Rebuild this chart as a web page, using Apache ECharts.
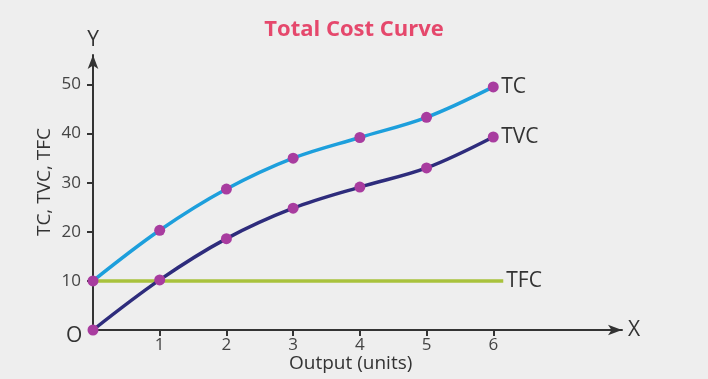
<!DOCTYPE html>
<html>
<head>
<meta charset="utf-8">
<script src="https://cdn.jsdelivr.net/npm/echarts@6/dist/echarts.min.js"></script>
<style>
html,body{margin:0;padding:0;background:#eeeeee;}
#c{width:708px;height:379px;}
</style>
</head>
<body>
<div id="c"></div>
<script>
var output = [0, 1, 2, 3, 4, 5, 6];
var tcValues = [10, 20.3, 28.7, 35, 39.2, 43.3, 49.5];
var tvcValues = [0, 10.2, 18.6, 24.8, 29.1, 33, 39.3];
var tfcX = [0, 6.15];
var tfcValues = [10, 10];
var yTicks = [10, 20, 30, 40, 50];
var xTicks = [1, 2, 3, 4, 5, 6];

function pairs(xs, ys){ return xs.map(function(x,i){ return [x, ys[i]]; }); }

var font = '"Open Sans", "Noto Sans", sans-serif';
var chart = echarts.init(document.getElementById('c'));
chart.setOption({
  backgroundColor: '#eeeeee',
  animation: false,
  title: {
    text: 'Total Cost Curve', left: 'center', top: 14,
    textStyle: {color: '#e5486c', fontSize: 22, fontWeight: 'bold', fontFamily: font}
  },
  grid: {left: 93, right: 86, top: 55, bottom: 49},
  xAxis: {
    type: 'value', min: 0, max: 7.93,
    name: 'X', nameLocation: 'end', nameGap: 6,
    nameTextStyle: {color: '#333', fontSize: 21, fontFamily: font},
    axisLine: {lineStyle: {color: '#333', width: 2}, symbol: ['none', 'arrow'], symbolSize: [8, 14]},
    axisTick: {show: true, inside: false, length: 6, lineStyle: {color: '#333', width: 2}, customValues: xTicks},
    axisLabel: {color: '#444', fontSize: 17, fontFamily: font, margin: 7, customValues: xTicks},
    splitLine: {show: false}
  },
  yAxis: {
    type: 'value', min: 0, max: 56,
    name: 'Y', nameLocation: 'end', nameGap: 4,
    nameTextStyle: {color: '#333', fontSize: 21, fontFamily: font, align: 'center'},
    axisLine: {show: true, lineStyle: {color: '#333', width: 2}, symbol: ['none', 'arrow'], symbolSize: [8, 14]},
    axisTick: {show: true, length: 6, lineStyle: {color: '#333', width: 2}, customValues: yTicks},
    axisLabel: {color: '#444', fontSize: 17, fontFamily: font, margin: 12, customValues: yTicks},
    splitLine: {show: false}
  },
  graphic: [
    {type: 'text', left: 66, top: 326, style: {text: 'O', fill: '#333', font: '21px ' + font}},
    {type: 'text', left: 289, top: 354, style: {text: 'Output (units)', fill: '#333', font: '19px ' + font}},
    {type: 'text', x: 45, y: 182, rotation: Math.PI/2, style: {text: 'TC, TVC, TFC', fill: '#333', font: '19px ' + font, align: 'center', verticalAlign: 'middle'}}
  ],
  series: [
    {
      name: 'TFC', type: 'line', data: pairs(tfcX, tfcValues), showSymbol: false, symbol: 'none',
      lineStyle: {color: '#a9c23c', width: 3.5}, z: 2,
      endLabel: {show: true, formatter: 'TFC', color: '#333', fontSize: 21, fontFamily: font, distance: 3}
    },
    {
      name: 'TC', type: 'line', data: pairs(output, tcValues), smooth: 0.35,
      symbol: 'circle', symbolSize: 11,
      itemStyle: {color: '#a83c9f'}, lineStyle: {color: '#1d9fdc', width: 3.5}, z: 3,
      endLabel: {show: true, formatter: 'TC', color: '#333', fontSize: 21, fontFamily: font, distance: 8}
    },
    {
      name: 'TVC', type: 'line', data: pairs(output, tvcValues), smooth: 0.35,
      symbol: 'circle', symbolSize: 11,
      itemStyle: {color: '#a83c9f'}, lineStyle: {color: '#2e2c7c', width: 3.5}, z: 3,
      endLabel: {show: true, formatter: 'TVC', color: '#333', fontSize: 21, fontFamily: font, distance: 8}
    }
  ]
});
</script>
</body>
</html>
